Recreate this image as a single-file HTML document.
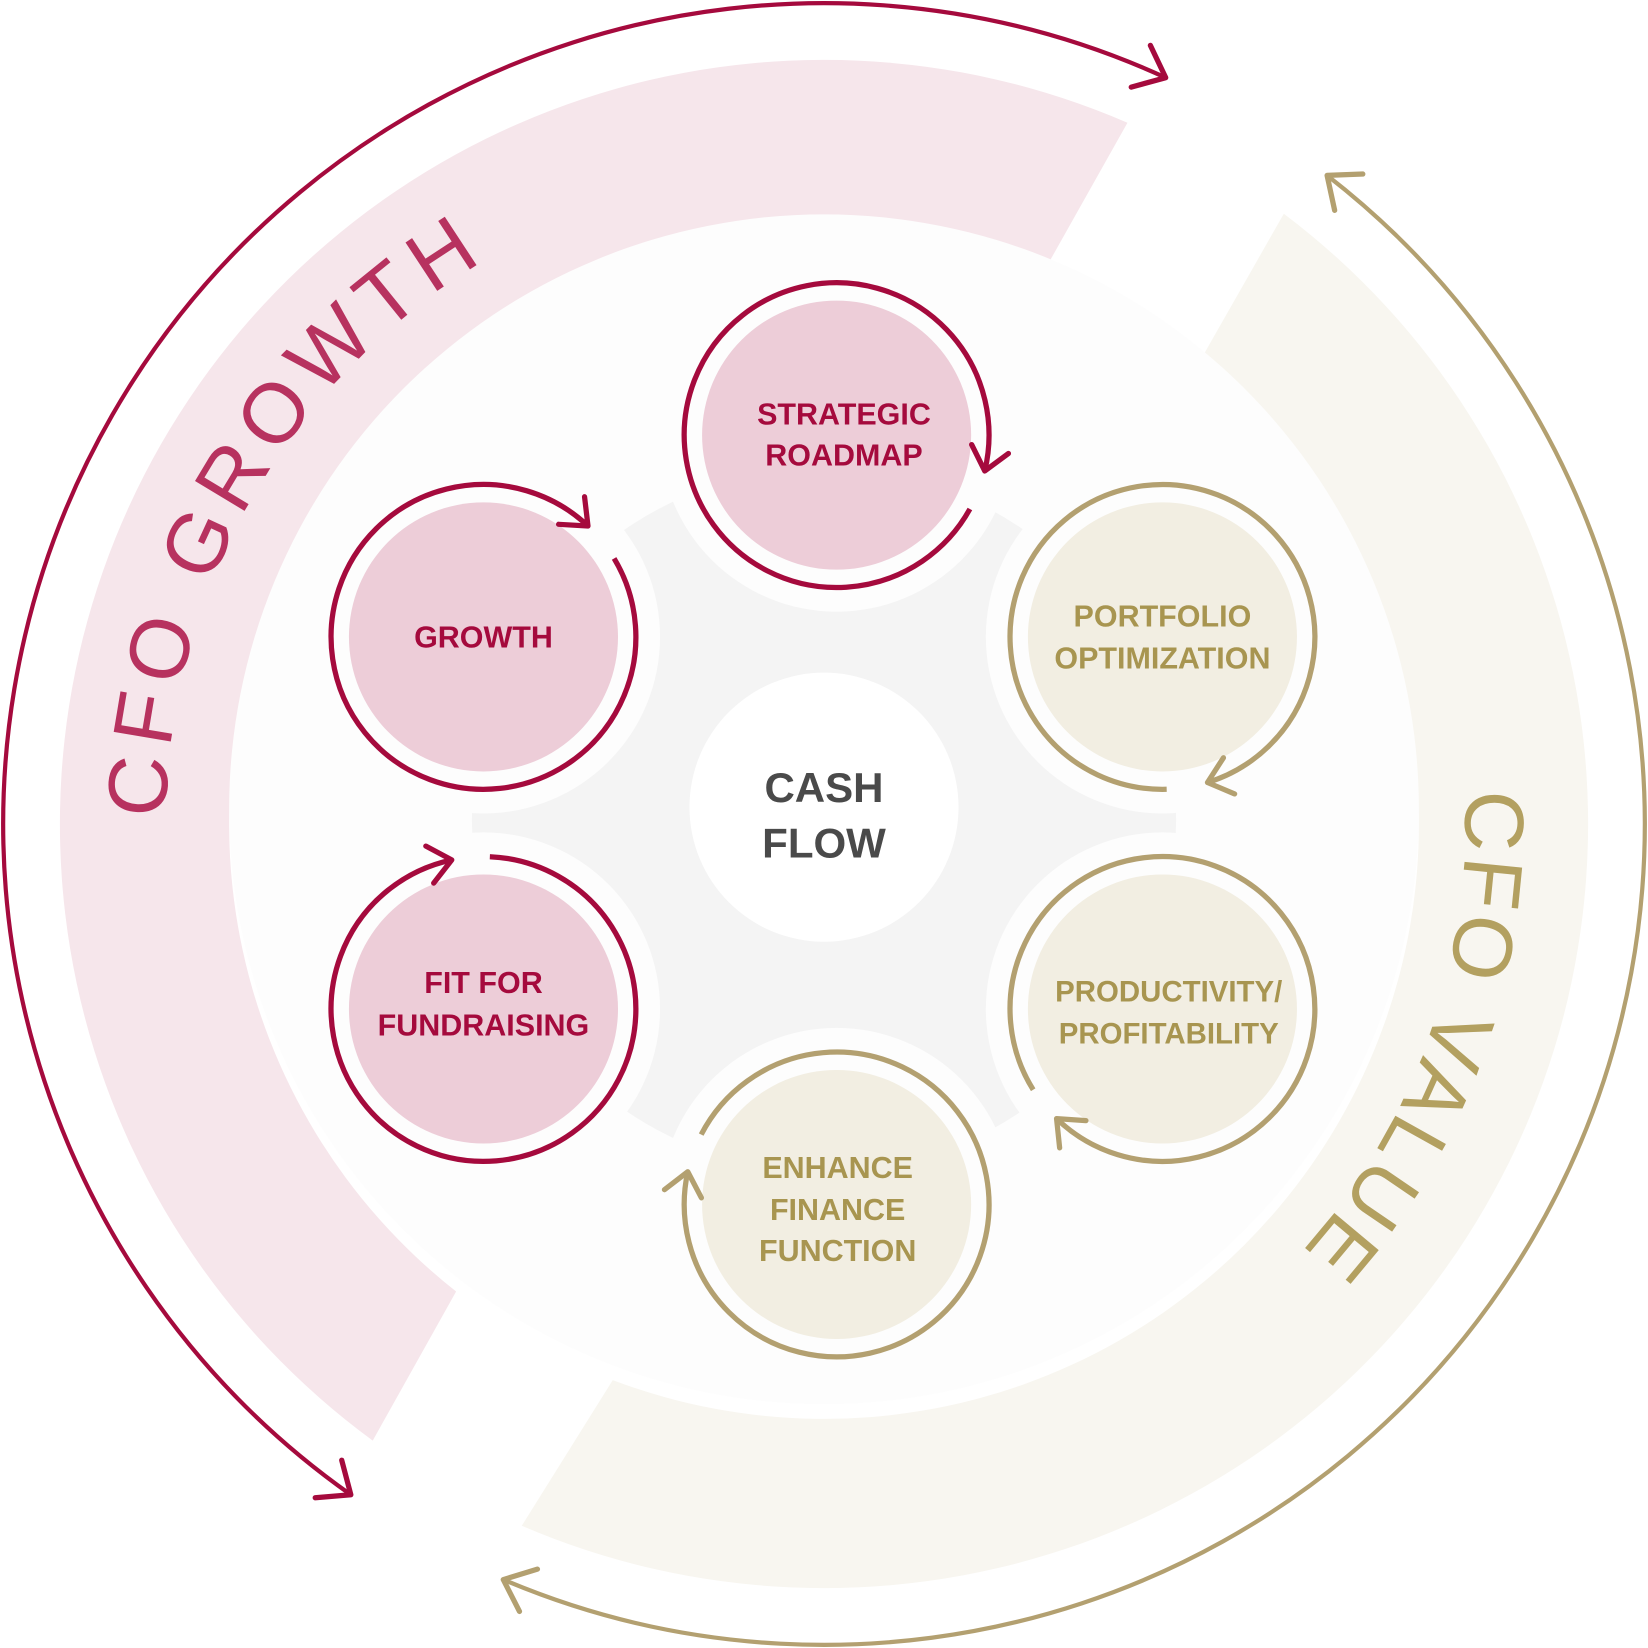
<!DOCTYPE html>
<html><head><meta charset="utf-8"><style>
html,body{margin:0;padding:0;background:#fff;}
svg{display:block;}
</style></head><body>
<svg id="s" xmlns="http://www.w3.org/2000/svg" width="1648" height="1648" viewBox="0 0 1568 1568">
<defs>
<path id="gp" d=""/>
<path id="vp" d=""/>
</defs>
<g id="bg"></g>
<text font-family="Liberation Sans, sans-serif" font-size="80" fill="#b7325f" letter-spacing="14"><textPath href="#gp" id="gt">CFO GROWTH</textPath></text>
<text font-family="Liberation Sans, sans-serif" font-size="80" fill="#b3a060" letter-spacing="14"><textPath href="#vp" id="vt">CFO VALUE</textPath></text>
<g id="fg"></g>
<g font-family="Liberation Sans, sans-serif" font-weight="bold" text-anchor="middle">
<text x="803" y="404" font-size="29" fill="#a50a3d">STRATEGIC</text>
<text x="803" y="443" font-size="29" fill="#a50a3d">ROADMAP</text>
<text x="460" y="616" font-size="29" fill="#a50a3d">GROWTH</text>
<text x="460" y="945" font-size="29" fill="#a50a3d">FIT FOR</text>
<text x="460" y="985" font-size="29" fill="#a50a3d">FUNDRAISING</text>
<text x="1106" y="596" font-size="29" fill="#a89550">PORTFOLIO</text>
<text x="1106" y="636" font-size="29" fill="#a89550">OPTIMIZATION</text>
<text x="1112" y="953" font-size="28" fill="#a89550">PRODUCTIVITY/</text>
<text x="1112" y="993" font-size="28" fill="#a89550">PROFITABILITY</text>
<text x="797" y="1121" font-size="29" fill="#a89550">ENHANCE</text>
<text x="797" y="1161" font-size="29" fill="#a89550">FINANCE</text>
<text x="797" y="1200" font-size="29" fill="#a89550">FUNCTION</text>
<text x="784" y="763" font-size="40" fill="#4a4a4a">CASH</text>
<text x="784" y="816" font-size="40" fill="#4a4a4a">FLOW</text>
</g>
</svg>
<script>
var NS="http://www.w3.org/2000/svg";
var bg=document.getElementById('bg'),fg=document.getElementById('fg');
function el(p,t,a){var e=document.createElementNS(NS,t);for(var k in a)e.setAttribute(k,a[k]);p.appendChild(e);return e;}
function pt(cx,cy,r,a){a=a*Math.PI/180;return [cx+r*Math.cos(a),cy+r*Math.sin(a)];}
function arc(cx,cy,r,a0,a1){var p0=pt(cx,cy,r,a0),p1=pt(cx,cy,r,a1);var large=(a1-a0)>180?1:0;
return "M"+p0[0]+" "+p0[1]+" A"+r+" "+r+" 0 "+large+" 1 "+p1[0]+" "+p1[1];}
function band(cx,cy,r1,r2,a0,a1,b0,b1){var p0=pt(cx,cy,r1,a0),p1=pt(cx,cy,r1,a1),q1=pt(cx,cy,r2,b1),q0=pt(cx,cy,r2,b0);var l=(a1-a0)>180?1:0;
return "M"+p0+" A"+r1+" "+r1+" 0 "+l+" 1 "+p1+" L"+q1+" A"+r2+" "+r2+" 0 "+l+" 0 "+q0+"Z";}
function head(p,dir,col,w,len){
 var a1=(dir+180-40)*Math.PI/180,a2=(dir+180+40)*Math.PI/180;
 el(fg,'path',{d:"M"+(p[0]+len*Math.cos(a1))+" "+(p[1]+len*Math.sin(a1))+" L"+p[0]+" "+p[1]+" L"+(p[0]+len*Math.cos(a2))+" "+(p[1]+len*Math.sin(a2)),fill:'none',stroke:col,'stroke-width':w,'stroke-linecap':'round','stroke-linejoin':'round'});}
var C=784,PK="#a50a3d",GD="#b3a070";
el(bg,'path',{d:band(C,C,727,566,126.2,293.4,128.2,291.7),fill:"#f6e6eb"});
el(bg,'path',{d:band(C,C,727,566,-53,113.3,-50.9,110.8),fill:"#f8f6f0"});
el(bg,'circle',{cx:C,cy:770,r:566,fill:"#fdfdfd"});
el(bg,'circle',{cx:784,cy:780,r:335,fill:"#f4f4f4"});
var nodes=[[796,414,29,373.6,1],[460,606,-31,313.3,1],[460,960,-87.6,258,1],[796,1146,207.3,552.4,0],[1106,960,148,494,0],[1106,606,88.4,432.8,0]];
nodes.forEach(function(n){el(bg,'circle',{cx:n[0],cy:n[1],r:168,fill:"#fdfdfd"});});
el(bg,'circle',{cx:784,cy:768,r:128,fill:"#fff"});
nodes.forEach(function(n){var col=n[4]?PK:GD;
 el(fg,'circle',{cx:n[0],cy:n[1],r:128,fill:n[4]?"#edcdd8":"#f2eee2"});
 el(fg,'path',{d:arc(n[0],n[1],145,n[2],n[3]),fill:'none',stroke:col,'stroke-width':5});
 head(pt(n[0],n[1],145,n[3]),n[3]+90,col,5,28);});
el(fg,'path',{d:arc(C,C,781,125.2,294.6),fill:'none',stroke:PK,'stroke-width':4});
head(pt(C,C,781,294.6),294.6+90,PK,5,34);head(pt(C,C,781,125.2),125.2-90,PK,5,34);
el(fg,'path',{d:arc(C,C,781,-52.2,113),fill:'none',stroke:GD,'stroke-width':4});
head(pt(C,C,781,113),113+90,GD,5,34);head(pt(C,C,781,-52.2),-52.2-90,GD,5,34);
document.getElementById('gp').setAttribute('d',arc(C,C,626,180.5,242));
document.getElementById('vp').setAttribute('d',arc(C,C,610,-3,46));
document.getElementById('gt').setAttribute('textLength','650');
document.getElementById('vt').setAttribute('textLength','490');
</script>
</body></html>
